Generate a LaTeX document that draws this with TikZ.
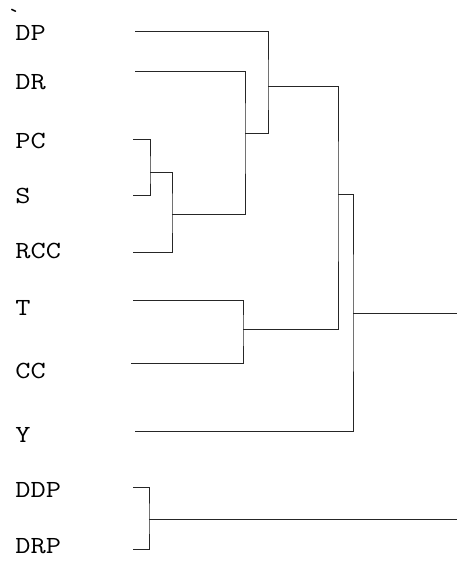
\documentclass[tikz,border=0pt]{standalone}
\usepackage{tikz}
\usetikzlibrary{positioning}
\newcommand{\widelbl}[1]{\scalebox{1.2}[1]{#1}}

\begin{document}
\begin{tikzpicture}[x=0.5pt, y=-0.5pt]
  \tikzset{
    leaf/.style={
      anchor=west,
      inner sep=0pt,
      font=\fontsize{12.3}{14}\selectfont\ttfamily
    },
    link/.style={
      draw=black!85,
      line width=0.5pt
    }
  }
  \useasboundingbox (0,0) rectangle (457,561);

  % Labels
  \node[leaf] (tick) at (7,12) {\raisebox{-5pt}[2.6pt][0pt]{\textasciigrave}};
  \node[leaf] (DP)  at (15,33)    {\widelbl{DP}};
  \node[leaf] (DR)  at (15,82)    {\widelbl{DR}};
  \node[leaf] (PC)  at (15,141)   {\widelbl{PC}};
  \node[leaf] (S)   at (15,195.5) {\widelbl{S}};
  \node[leaf] (RCC) at (15,250.5) {\widelbl{RCC}};
  \node[leaf] (T)   at (15,308)   {\widelbl{T}};
  \node[leaf] (CC)  at (15,371)   {\widelbl{CC}};
  \node[leaf] (Y)   at (15,435)   {\widelbl{Y}};
  \node[leaf] (DDP) at (15,490)   {\widelbl{DDP}};
  \node[leaf] (DRP) at (15,546)   {\widelbl{DRP}};

  % Leaf ends
  \coordinate (lDP)  at (135,32);
  \coordinate (lDR)  at (135,72);
  \coordinate (lPC)  at (133,140);
  \coordinate (lS)   at (133,196);
  \coordinate (lRCC) at (133,252);
  \coordinate (lT)   at (133,300);
  \coordinate (lCC)  at (131,363);
  \coordinate (lY)   at (135,431);
  \coordinate (lDDP) at (133,487);
  \coordinate (lDRP) at (133,549);

  % Joins
  \coordinate (j1) at (150,172.5);
  \coordinate (j2) at (172,214);
  \coordinate (j3) at (245,134);
  \coordinate (j4) at (268,87);
  \coordinate (j5) at (243,329);
  \coordinate (j6) at (338,195);
  \coordinate (j7) at (353,313);
  \coordinate (j8) at (149,519);
  \coordinate (root1) at (457,313);
  \coordinate (root2) at (457,519);

  % Branches
  \draw[link] (lPC) -| (j1) |- (lS);
  \draw[link] (j1) -| (j2) |- (lRCC);
  \draw[link] (lDR) -| (j3) |- (j2);
  \draw[link] (lDP) -| (j4) |- (j3);
  \draw[link] (lT) -| (j5) |- (lCC);
  \draw[link] (j4) -| (j6) |- (j5);
  \draw[link] (j6) -| (j7) |- (lY);
  \draw[link] (j7) -- (root1);
  \draw[link] (lDDP) -| (j8) |- (lDRP);
  \draw[link] (j8) -- (root2);
\end{tikzpicture}
\end{document}
